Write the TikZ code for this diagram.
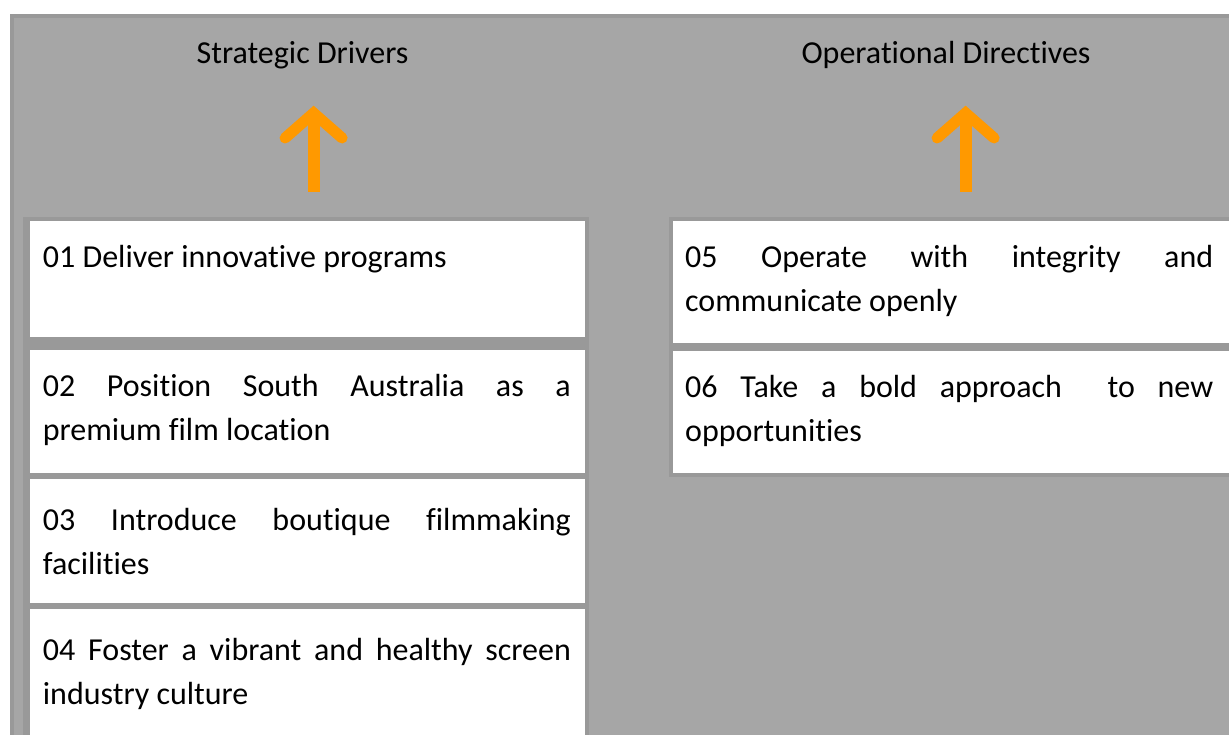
\documentclass[tikz,border=0pt]{standalone}
\usepackage{fontspec}
\setmainfont{Carlito}[Ligatures=NoCommon]
\usetikzlibrary{calc}
\definecolor{panelgray}{HTML}{A6A6A6}
\definecolor{rulegray}{HTML}{999999}
\definecolor{arroworange}{RGB}{255,153,0}
\hbadness=10000
\begin{document}
\begin{tikzpicture}[x=1pt,y=-1pt,
  cell/.style={fill=white, draw=none, inner sep=0pt, outer sep=0pt, anchor=north west},
  itemtext/.style={inner sep=0pt, anchor=north west, text width=528pt, align=justify,
    font=\fontsize{32}{44}\selectfont},
  heading/.style={inner sep=0pt, anchor=base, font=\fontsize{32}{44}\selectfont},
  shaft/.style={draw=arroworange, line width=12pt},
  barb/.style={draw=arroworange, line width=11pt, line cap=round, line join=miter},
]
\useasboundingbox (0,0) rectangle (1229,734);
\fill[white] (0,0) rectangle (1229,734);
\begin{scope}
  \clip (0,0) rectangle (1229,734);
  % grey panel behind both columns
  \draw[rulegray, line width=4pt, fill=panelgray] (12,16) rectangle (1260,770);
  % table rules of the two columns
  \fill[rulegray] (23,217) rectangle (589,770);
  \fill[rulegray] (669,217) rectangle (1260,477);

  % cells, left column
  \node[cell, minimum width=555pt, minimum height=116pt] (b1) at (30,221) {};
  \node[cell, minimum width=555pt, minimum height=123pt] (b2) at (30,350) {};
  \node[cell, minimum width=555pt, minimum height=124pt] (b3) at (30,479) {};
  \node[cell, minimum width=555pt, minimum height=140pt] (b4) at (30,609) {};
  % cells, right column
  \node[cell, minimum width=580pt, minimum height=122pt] (b5) at (673,221) {};
  \node[cell, minimum width=580pt, minimum height=122pt] (b6) at (673,351) {};
\end{scope}

% column headings
\node[heading] (h1) at (302.5,63) {Strategic Drivers};
\node[heading] (h2) at (946,63) {Operational Directives};

% cell texts
\node[itemtext] (t1) at ($(b1.north west)+(12.7,15)$) {\strut 01 Deliver innovative programs};
\node[itemtext] (t2) at ($(b2.north west)+(12.7,15)$) {\strut 02 Position South Australia as a\linebreak premium film location};
\node[itemtext] (t3) at ($(b3.north west)+(12.7,20)$) {\strut 03 Introduce boutique filmmaking\linebreak facilities};
\node[itemtext] (t4) at ($(b4.north west)+(12.7,20)$) {\strut 04 Foster a vibrant and healthy screen\linebreak industry culture};
\node[itemtext] (t5) at ($(b5.north west)+(12,15)$) {\strut 05 Operate with integrity and\linebreak communicate openly};
\node[itemtext] (t6) at ($(b6.north west)+(12,15)$) {\strut 06 Take a bold approach\ \ to new\linebreak opportunities};

% upward arrows from the columns to their headings
\coordinate (a1s) at (313.6,192);
\coordinate (a1t) at (313.6,113);
\coordinate (a2s) at (965.6,192);
\coordinate (a2t) at (965.6,113);
\draw[shaft] (a1s) -- (a1t);
\draw[barb] ($(a1t)+(-28.5,25)$) -- (a1t) -- ($(a1t)+(28.5,25)$);
\draw[shaft] (a2s) -- (a2t);
\draw[barb] ($(a2t)+(-28.5,25)$) -- (a2t) -- ($(a2t)+(28.5,25)$);
\end{tikzpicture}
\end{document}
